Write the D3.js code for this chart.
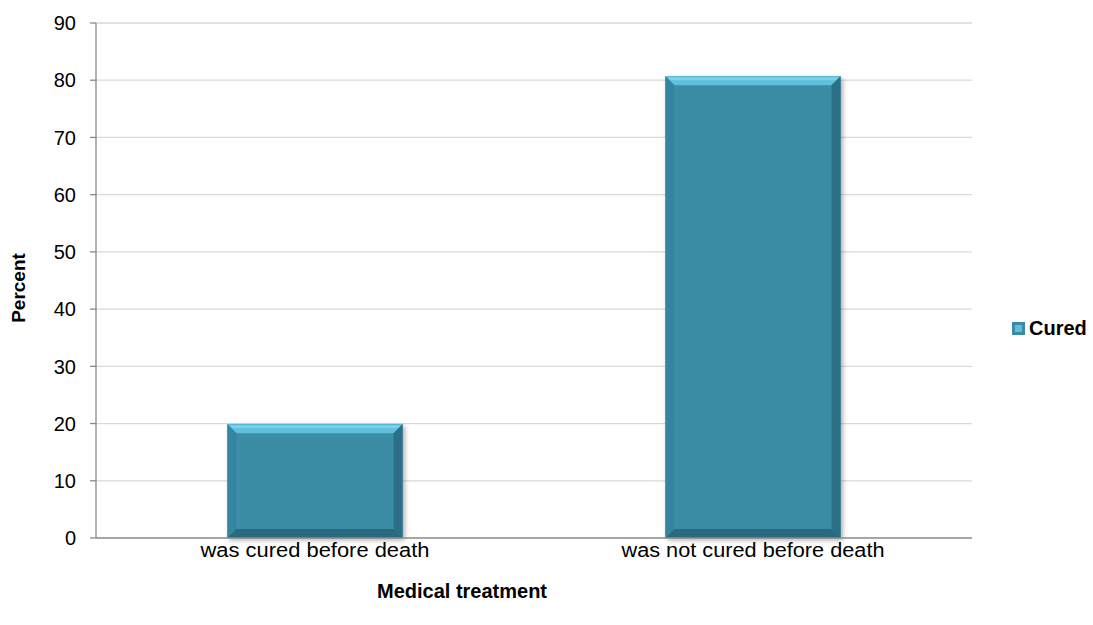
<!DOCTYPE html>
<html><head><meta charset="utf-8">
<script src="https://cdn.jsdelivr.net/npm/d3@7"></script>
<style>body{margin:0;background:#fff}svg{display:block;font-family:"Liberation Sans",Arial,sans-serif}</style>
</head><body>
<svg id="c" width="1093" height="625"></svg>
<script>
const categories = ["was cured before death", "was not cured before death"];
const cured = [19.9, 80.7];
const yTicks = [0,10,20,30,40,50,60,70,80,90];
const seriesName = "Cured";
const xTitle = "Medical treatment";
const yTitle = "Percent";

const svg = d3.select("#c");
const m = {l:96, r:972, t:23, b:538};
const x = d3.scaleBand().domain(categories).range([m.l, m.r]).paddingInner(0.6).paddingOuter(0.3);
const y = d3.scaleLinear().domain([0,90]).range([m.b, m.t]);

const defs = svg.append("defs");
const f = defs.append("filter").attr("id","sh").attr("x","-20%").attr("y","-20%").attr("width","140%").attr("height","140%");
f.append("feGaussianBlur").attr("in","SourceAlpha").attr("stdDeviation",2.5);
f.append("feOffset").attr("dx",2).attr("dy",2).attr("result","o");
f.append("feComponentTransfer").append("feFuncA").attr("type","linear").attr("slope",0.35);
const fm = f.append("feMerge"); fm.append("feMergeNode"); fm.append("feMergeNode").attr("in","SourceGraphic");

svg.append("g").selectAll("line").data(yTicks.filter(d=>d>0)).join("line")
  .attr("x1",m.l).attr("x2",m.r).attr("y1",d=>y(d)).attr("y2",d=>y(d))
  .attr("stroke","#d9d9d9").attr("stroke-width",1.3);

const bev = 9;
const g = svg.append("g").selectAll("g").data(categories.map((c,i)=>({c,v:cured[i]}))).join("g");
g.each(function(d){
  const s = d3.select(this);
  const x0 = x(d.c), x1 = x0 + x.bandwidth(), y0 = y(d.v), y1 = y(0);
  s.append("rect").attr("x",x0).attr("y",y0).attr("width",x1-x0).attr("height",y1-y0)
    .attr("fill","#3a8ca5").attr("filter","url(#sh)");
  s.append("polygon").attr("points",`${x0},${y0} ${x1},${y0} ${x1-bev},${y0+bev} ${x0+bev},${y0+bev}`).attr("fill","#5fbfdc");
  s.append("polygon").attr("points",`${x0+2},${y0+1} ${x1-2},${y0+1} ${x1-5},${y0+4} ${x0+5},${y0+4}`).attr("fill","#78d2ec");
  s.append("polygon").attr("points",`${x0},${y0} ${x0+bev},${y0+bev} ${x0+bev},${y1-bev} ${x0},${y1}`).attr("fill","#3685a0");
  s.append("polygon").attr("points",`${x1},${y0} ${x1-bev},${y0+bev} ${x1-bev},${y1-bev} ${x1},${y1}`).attr("fill","#2b6f86");
  s.append("polygon").attr("points",`${x0},${y1} ${x0+bev},${y1-bev} ${x1-bev},${y1-bev} ${x1},${y1}`).attr("fill","#2a6a80");
});

svg.append("line").attr("x1",m.l).attr("x2",m.l).attr("y1",m.t).attr("y2",m.b).attr("stroke","#888").attr("stroke-width",1.3);
svg.append("line").attr("x1",m.l).attr("x2",m.r).attr("y1",m.b).attr("y2",m.b).attr("stroke","#888").attr("stroke-width",1.3);
svg.append("g").selectAll("line").data(yTicks).join("line")
  .attr("x1",m.l-6).attr("x2",m.l).attr("y1",d=>y(d)).attr("y2",d=>y(d)).attr("stroke","#888").attr("stroke-width",1.3);
svg.append("g").selectAll("text").data(yTicks).join("text")
  .attr("x",76).attr("y",d=>y(d)).attr("dy","0.36em").attr("text-anchor","end")
  .attr("font-size",20).attr("fill","#000").text(d=>d);
svg.append("g").selectAll("text").data(categories).join("text")
  .attr("x",d=>x(d)+x.bandwidth()/2).attr("y",557).attr("text-anchor","middle")
  .attr("font-size",20).attr("fill","#000")
  .attr("textLength", (d,i)=> i===0 ? 229 : 263).attr("lengthAdjust","spacingAndGlyphs").text(d=>d);

svg.append("text").attr("x",462).attr("y",598).attr("text-anchor","middle")
  .attr("font-size",20).attr("font-weight","bold").text(xTitle);
svg.append("text").attr("transform",`translate(25,288) rotate(-90)`).attr("text-anchor","middle")
  .attr("font-size",19).attr("font-weight","bold").text(yTitle);

const lg = svg.append("g").attr("transform","translate(1012,322)");
lg.append("rect").attr("width",13).attr("height",13).attr("fill","#3a8ca5");
lg.append("rect").attr("x",3).attr("y",3).attr("width",7).attr("height",7).attr("fill","#5fbfdc");
lg.append("text").attr("x",17).attr("y",13).attr("font-size",20).attr("font-weight","bold").text(seriesName);
</script>
</body></html>
